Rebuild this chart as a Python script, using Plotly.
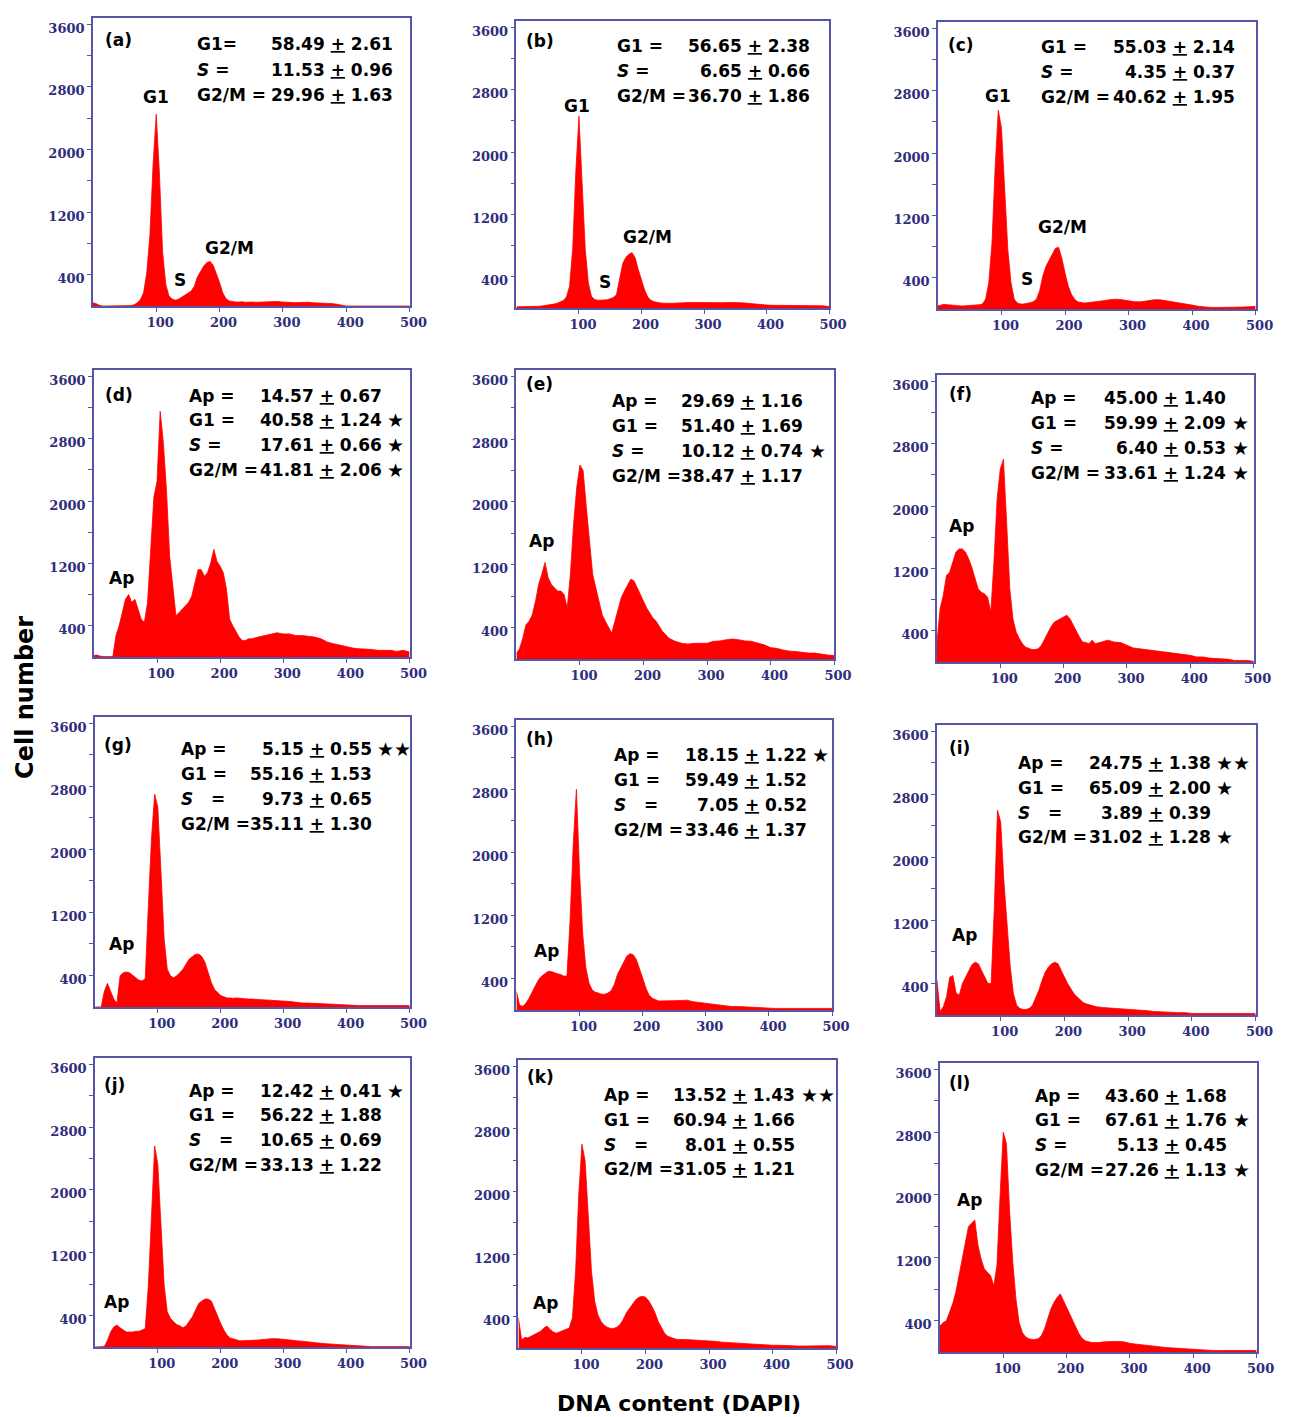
import plotly.graph_objects as go

FIG_W, FIG_H = 1292, 1417
# the captured page comes out ~1.3% narrower horizontally; positions are
# pre-stretched by this factor so that they land where the reference has them
X_STRETCH = 1.013

# DNA content grid (DAPI channel)
X = list(range(0, 250, 5)) + list(range(250, 501, 10))

# Cell number per DNA-content channel
Y_A = [40, 30, 10, 0, 0, 0, 0, 0, 0, 0,
       0, 0, 5, 15, 40, 80, 170, 420, 900, 1800,
       2450, 1700, 700, 280, 130, 90, 75, 85, 110, 140,
       170, 190, 250, 370, 440, 510, 555, 570, 520, 420,
       300, 170, 95, 65, 55, 52, 50, 55, 48, 52,
       50, 48, 52, 55, 58, 50, 45, 42, 46, 48,
       40, 38, 35, 30, 15, 0, 0, 0, 0, 0,
       0, 0, 0, 0, 0, 0]
Y_B = [15, 15, 15, 15, 18, 18, 20, 22, 25, 30,
       35, 40, 50, 60, 75, 95, 140, 280, 760, 1750,
       2460, 1650, 760, 320, 150, 110, 100, 100, 100, 105,
       120, 135, 170, 390, 570, 650, 690, 710, 640, 490,
       360, 230, 140, 100, 80, 70, 65, 62, 60, 60,
       60, 65, 70, 72, 70, 68, 65, 65, 68, 70,
       70, 68, 60, 50, 40, 38, 35, 35, 35, 32,
       30, 30, 30, 28, 28, 20]
Y_C = [40, 50, 60, 55, 50, 45, 42, 40, 40, 42,
       45, 48, 50, 55, 63, 126, 337, 840, 1810, 2550,
       2315, 1470, 760, 337, 126, 76, 63, 65, 70, 80,
       92, 126, 230, 420, 547, 630, 715, 780, 790, 650,
       463, 295, 190, 126, 92, 80, 76, 80, 84, 88,
       92, 105, 118, 126, 118, 105, 92, 92, 105, 118,
       118, 105, 92, 84, 63, 50, 34, 25, 20, 20,
       20, 20, 20, 25, 30, 35]
Y_D = [20, 25, 10, 5, 5, 5, 5, 275, 400, 570,
       740, 800, 700, 740, 610, 485, 445, 700, 1375, 2050,
       2250, 3150, 2750, 2135, 1290, 870, 530, 570, 615, 655,
       700, 780, 950, 1120, 1120, 1035, 1080, 1205, 1380, 1225,
       1165, 1080, 870, 485, 400, 317, 255, 210, 210, 233,
       233, 255, 275, 296, 310, 296, 296, 275, 275, 265,
       255, 233, 190, 170, 150, 127, 115, 105, 105, 97,
       85, 85, 85, 72, 85, 63]
Y_E = [70, 135, 265, 435, 480, 565, 735, 950, 1080, 1230,
       1035, 950, 905, 865, 865, 820, 650, 1080, 1720, 2190,
       2470, 2400, 1935, 1505, 1080, 905, 735, 565, 480, 395,
       330, 480, 650, 780, 865, 950, 1015, 995, 905, 820,
       735, 650, 585, 520, 480, 415, 350, 310, 265, 245,
       225, 200, 190, 200, 200, 200, 225, 230, 245, 255,
       245, 230, 225, 200, 180, 145, 135, 115, 100, 95,
       85, 75, 75, 60, 50, 45]
Y_F = [255, 685, 855, 1110, 1150, 1280, 1410, 1450, 1450, 1410,
       1325, 1215, 1070, 940, 895, 875, 830, 640, 1280, 2090,
       2475, 2600, 1795, 940, 555, 385, 300, 235, 190, 170,
       160, 160, 170, 215, 300, 385, 450, 510, 535, 555,
       575, 600, 555, 470, 405, 320, 255, 250, 235, 280,
       235, 255, 280, 255, 250, 215, 180, 170, 160, 150,
       135, 130, 120, 105, 95, 85, 65, 65, 50, 45,
       35, 35, 20, 20, 20, 10]
Y_G = [0, 0, 0, 200, 300, 200, 100, 50, 395, 435,
       445, 435, 400, 370, 340, 330, 360, 1290, 2150, 2700,
       2535, 1720, 865, 480, 395, 370, 395, 435, 480, 545,
       610, 640, 670, 670, 640, 565, 435, 310, 225, 180,
       145, 130, 115, 115, 110, 115, 110, 105, 105, 100,
       100, 95, 95, 85, 80, 75, 70, 60, 50, 50,
       45, 40, 35, 30, 25, 22, 18, 18, 18, 18,
       18, 18, 18, 18, 18, 18]
Y_H = [235, 65, 45, 85, 150, 235, 320, 385, 430, 460,
       490, 490, 470, 460, 450, 430, 430, 1135, 2100, 2800,
       1750, 965, 535, 340, 255, 225, 215, 200, 200, 215,
       245, 320, 450, 535, 620, 685, 715, 700, 640, 535,
       405, 280, 190, 150, 130, 115, 115, 115, 120, 115,
       115, 120, 125, 105, 95, 85, 75, 65, 55, 45,
       45, 40, 35, 30, 30, 25, 20, 20, 20, 20,
       20, 20, 20, 20, 20, 20]
Y_I = [440, 40, 105, 230, 480, 500, 280, 250, 400, 480,
       565, 640, 670, 650, 565, 480, 400, 400, 1360, 2600,
       2450, 1700, 1150, 610, 270, 125, 85, 70, 70, 85,
       125, 210, 315, 440, 545, 610, 650, 670, 650, 565,
       480, 400, 335, 270, 230, 190, 155, 140, 125, 115,
       105, 95, 90, 85, 80, 70, 65, 65, 55, 45,
       40, 38, 35, 30, 30, 20, 20, 20, 20, 20,
       20, 20, 20, 20, 20, 20]
Y_J = [0, 0, 0, 5, 85, 190, 255, 280, 245, 215,
       190, 190, 190, 200, 200, 215, 235, 790, 1730, 2560,
       2325, 1515, 790, 450, 365, 320, 285, 270, 245, 270,
       320, 385, 470, 555, 585, 610, 610, 585, 490, 385,
       300, 215, 150, 115, 100, 85, 80, 80, 80, 80,
       85, 90, 100, 105, 105, 100, 90, 80, 75, 65,
       55, 45, 40, 35, 30, 20, 12, 8, 5, 5,
       5, 5, 5, 5, 5, 5]
Y_K = [385, 105, 135, 130, 150, 170, 190, 215, 255, 280,
       235, 205, 190, 205, 215, 235, 255, 385, 980, 1965,
       2605, 2390, 1665, 980, 600, 425, 340, 290, 265, 250,
       250, 265, 300, 365, 450, 510, 575, 620, 650, 660,
       650, 605, 535, 450, 340, 255, 190, 150, 130, 120,
       110, 110, 105, 100, 95, 95, 85, 75, 70, 65,
       55, 50, 45, 42, 40, 35, 35, 30, 30, 25,
       25, 25, 25, 30, 30, 20]
Y_L = [330, 375, 395, 500, 610, 760, 970, 1185, 1400, 1595,
       1640, 1680, 1360, 1185, 1060, 1015, 970, 845, 1100, 2000,
       2800, 2650, 1785, 1145, 675, 375, 250, 195, 170, 160,
       160, 170, 205, 290, 420, 545, 630, 695, 740, 650,
       565, 480, 395, 310, 225, 170, 140, 130, 120, 120,
       120, 130, 135, 135, 130, 110, 100, 90, 85, 75,
       65, 55, 50, 45, 40, 30, 30, 25, 20, 20,
       20, 20, 20, 20, 20, 20]

SERIES = [Y_A, Y_B, Y_C, Y_D, Y_E, Y_F, Y_G, Y_H, Y_I, Y_J, Y_K, Y_L]
PANEL_TAGS = ["(a)", "(b)", "(c)", "(d)", "(e)", "(f)",
              "(g)", "(h)", "(i)", "(j)", "(k)", "(l)"]

# Y ticks / X ticks
Y_TICKS = [400, 800, 1200, 1600, 2000, 2400, 2800, 3200, 3600]
Y_TICK_TEXT = ["400", "", "1200", "", "2000", "", "2800", "", "3600"]
X_TICKS = [100, 200, 300, 400, 500]
X_TICK_TEXT = ["100", "200", "300", "400", "500"]

# Phase percentages (mean, s.e.) and significance marks
S_I = "<i>S</i> ="
S_SP = "<i>S</i>\u00a0\u00a0\u00a0="
ROW_LABELS = [
    ["G1=", S_I, "G2/M ="],
    ["G1 =", S_I, "G2/M ="],
    ["G1 =", S_I, "G2/M ="],
    ["Ap =", "G1 =", S_I, "G2/M ="],
    ["Ap =", "G1 =", S_I, "G2/M ="],
    ["Ap =", "G1 =", S_I, "G2/M ="],
    ["Ap =", "G1 =", S_SP, "G2/M ="],
    ["Ap =", "G1 =", S_SP, "G2/M ="],
    ["Ap =", "G1 =", S_SP, "G2/M ="],
    ["Ap =", "G1 =", S_SP, "G2/M ="],
    ["Ap =", "G1 =", S_SP, "G2/M ="],
    ["Ap =", "G1 =", S_I, "G2/M ="],
]
ROW_MEANS = [
    ["58.49", "11.53", "29.96"],
    ["56.65", "6.65", "36.70"],
    ["55.03", "4.35", "40.62"],
    ["14.57", "40.58", "17.61", "41.81"],
    ["29.69", "51.40", "10.12", "38.47"],
    ["45.00", "59.99", "6.40", "33.61"],
    ["5.15", "55.16", "9.73", "35.11"],
    ["18.15", "59.49", "7.05", "33.46"],
    ["24.75", "65.09", "3.89", "31.02"],
    ["12.42", "56.22", "10.65", "33.13"],
    ["13.52", "60.94", "8.01", "31.05"],
    ["43.60", "67.61", "5.13", "27.26"],
]
ROW_ERRS = [
    ["2.61", "0.96", "1.63"],
    ["2.38", "0.66", "1.86"],
    ["2.14", "0.37", "1.95"],
    ["0.67", "1.24", "0.66", "2.06"],
    ["1.16", "1.69", "0.74", "1.17"],
    ["1.40", "2.09", "0.53", "1.24"],
    ["0.55", "1.53", "0.65", "1.30"],
    ["1.22", "1.52", "0.52", "1.37"],
    ["1.38", "2.00", "0.39", "1.28"],
    ["0.41", "1.88", "0.69", "1.22"],
    ["1.43", "1.66", "0.55", "1.21"],
    ["1.68", "1.76", "0.45", "1.13"],
]
ROW_SIG = [
    ["", "", ""],
    ["", "", ""],
    ["", "", ""],
    ["", "*", "*", "*"],
    ["", "", "*", ""],
    ["", "*", "*", "*"],
    ["**", "", "", ""],
    ["*", "", "", ""],
    ["**", "*", "", "*"],
    ["*", "", "", ""],
    ["**", "", "", ""],
    ["", "*", "", "*"],
]

# Peak labels inside each histogram: (text, x, y)
PEAK_LABELS = [
    [("G1", 99, 2666), ("S", 138, 334), ("G2/M", 215, 740)],
    [("G1", 97, 2587), ("S", 142, 335), ("G2/M", 209, 914)],
    [("G1", 94, 2728), ("S", 140, 387), ("G2/M", 196, 1052)],
    [("Ap", 44, 1015)],
    [("Ap", 40, 1507)],
    [("Ap", 38, 1750)],
    [("Ap", 42, 800)],
    [("Ap", 47, 749)],
    [("Ap", 43, 1014)],
    [("Ap", 34, 568)],
    [("Ap", 42, 576)],
    [("Ap", 47, 1934)],
]

# ---- layout geometry (page pixels) ----
PANEL_BOX = [  # left, top, right, bottom
    (93, 18, 410, 306), (517, 21, 830, 308), (939, 22, 1257, 309),
    (94, 370, 410, 657), (517, 370, 835, 659), (938, 375, 1255, 662),
    (95, 717, 410, 1007), (517, 720, 833, 1010), (938, 725, 1257, 1015),
    (95, 1058, 410, 1347), (519, 1060, 837, 1348), (941, 1063, 1258, 1352),
]
TAG_POS = [(16, 3394), (12, 3423), (13, 3390), (14, 3363), (12, 3497), (16, 3437),
           (12, 3326), (12, 3437), (15, 3394), (12, 3330), (10, 3459), (11, 3429)]
LABEL_X = [161, 157, 159, 148, 148, 146, 133, 152, 124, 147, 131, 147]
VALUE_RX = [477, 472, 471, 459, 455, 460, 443, 463, 433, 459, 439, 457]
ROW_Y = [
    [3348, 3016, 2696],
    [3359, 3039, 2718],
    [3359, 3039, 2718],
    [3347, 3039, 2718, 2398],
    [3285, 2967, 2649, 2330],
    [3385, 3065, 2744, 2423],
    [3274, 2957, 2640, 2322],
    [3236, 2919, 2601, 2284],
    [3198, 2881, 2563, 2259],
    [3260, 2954, 2636, 2318],
    [3233, 2913, 2594, 2287],
    [3260, 2954, 2636, 2318],
]

RED = "#ff0000"
FRAME = "#5656a6"
TICK_TXT = "#2e2e7d"
SANS = "DejaVu Sans"
SERIF = "DejaVu Serif"
TXT_SIZE = 17


def px_x(p):
    return min(1.0, p * X_STRETCH / FIG_W)


def px_y(p):
    return 1 - p / FIG_H


fig = go.Figure()
layout = dict(
    width=FIG_W, height=FIG_H, autosize=False,
    margin=dict(l=0, r=0, t=0, b=0, pad=0),
    paper_bgcolor="white", plot_bgcolor="white",
    showlegend=False,
)
annotations = []

for i, ys in enumerate(SERIES):
    n = i + 1
    xs = "x" if n == 1 else f"x{n}"
    yk = "y" if n == 1 else f"y{n}"
    L, T, R, B = PANEL_BOX[i]
    layout["xaxis" if n == 1 else f"xaxis{n}"] = dict(
        domain=[px_x(L), px_x(R)], range=[0, 500], anchor=yk,
        showline=True, mirror=True, linecolor=FRAME, linewidth=1.5,
        ticks="outside", ticklen=4, tickwidth=1, tickcolor=FRAME,
        tickvals=X_TICKS, ticktext=X_TICK_TEXT, ticklabelshift=4,
        tickfont=dict(family=SERIF, size=13, color=TICK_TXT, weight="bold"),
        showgrid=False, zeroline=False, fixedrange=True,
    )
    layout["yaxis" if n == 1 else f"yaxis{n}"] = dict(
        domain=[px_y(B), px_y(T)], range=[0, 3680], anchor=xs,
        showline=True, mirror=True, linecolor=FRAME, linewidth=1.5,
        ticks="outside", ticklen=4, tickwidth=1, tickcolor=FRAME,
        tickvals=Y_TICKS, ticktext=Y_TICK_TEXT, ticklabelshift=4,
        tickfont=dict(family=SERIF, size=13, color=TICK_TXT, weight="bold"),
        showgrid=False, zeroline=False, fixedrange=True,
    )
    fig.add_trace(go.Scatter(
        x=X, y=ys, mode="lines", fill="tozeroy",
        line=dict(color=RED, width=0.8), fillcolor=RED,
        xaxis=xs, yaxis=yk, hoverinfo="skip",
    ))

    tx, ty = TAG_POS[i]
    annotations.append(dict(
        x=tx, y=ty, xref=xs, yref=yk, text=f"<b>{PANEL_TAGS[i]}</b>",
        showarrow=False, xanchor="left", yanchor="middle",
        font=dict(family=SANS, size=17, color="black"),
    ))
    for r, lab in enumerate(ROW_LABELS[i]):
        yy = ROW_Y[i][r]
        annotations.append(dict(
            x=LABEL_X[i], y=yy, xref=xs, yref=yk, text=f"<b>{lab}</b>",
            showarrow=False, xanchor="left", yanchor="middle",
            font=dict(family=SANS, size=TXT_SIZE, color="black"),
        ))
        annotations.append(dict(
            x=VALUE_RX[i], y=yy, xref=xs, yref=yk,
            text=f"<b>{ROW_MEANS[i][r]} <u>+</u> {ROW_ERRS[i][r]}</b>",
            showarrow=False, xanchor="right", yanchor="middle",
            font=dict(family=SANS, size=TXT_SIZE, color="black"),
        ))
        sig = ROW_SIG[i][r]
        if sig:
            annotations.append(dict(
                x=VALUE_RX[i] + 2, y=yy, xref=xs, yref=yk,
                text="\u2605" * len(sig),
                showarrow=False, xanchor="left", yanchor="middle",
                font=dict(family=SANS, size=19, color="black"),
            ))
    for txt, px, py in PEAK_LABELS[i]:
        annotations.append(dict(
            x=px, y=py, xref=xs, yref=yk, text=f"<b>{txt}</b>",
            showarrow=False, xanchor="center", yanchor="middle",
            font=dict(family=SANS, size=TXT_SIZE, color="black"),
        ))

annotations.append(dict(
    x=px_x(25), y=px_y(697), xref="paper", yref="paper",
    text="<b>Cell number</b>", textangle=-90, showarrow=False,
    xanchor="center", yanchor="middle",
    font=dict(family=SANS, size=24, color="black"),
))
annotations.append(dict(
    x=px_x(680), y=px_y(1403), xref="paper", yref="paper",
    text="<b>DNA content (DAPI)</b>", showarrow=False,
    xanchor="center", yanchor="middle",
    font=dict(family=SANS, size=22, color="black"),
))

layout["annotations"] = annotations
fig.update_layout(**layout)

# remove the browser's default page margin and scrollbars so the figure
# sits exactly at the top-left corner of the window
PAGE_FIX = ("document.documentElement.style.overflow='hidden';"
            "document.body.style.margin='0';"
            "document.body.style.overflow='hidden';")
fig.write_html("out.html", config={"displayModeBar": False, "responsive": False},
               post_script=PAGE_FIX)
